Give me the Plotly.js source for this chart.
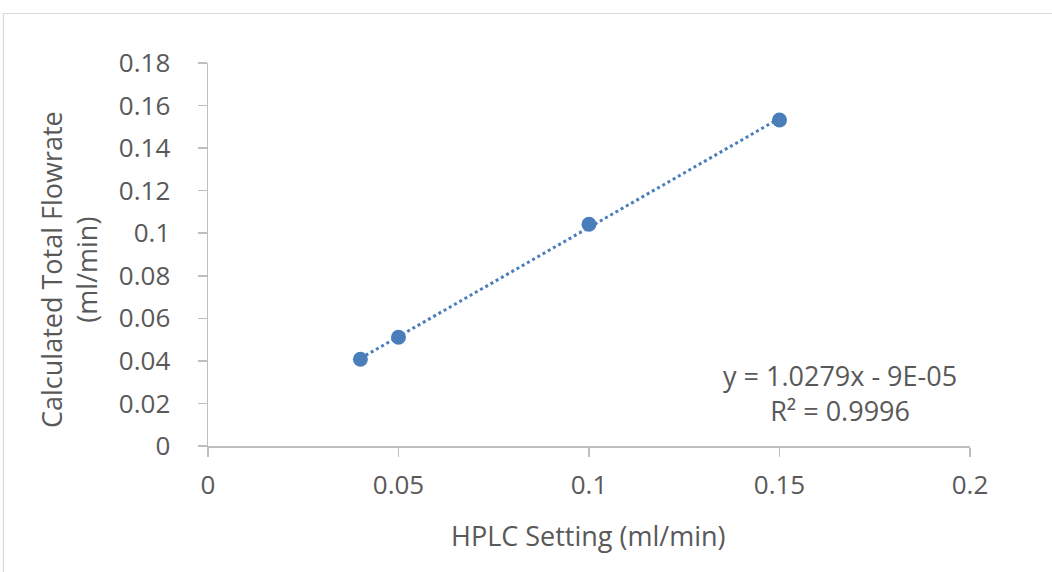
<!DOCTYPE html>
<html><head><meta charset="utf-8">
<script src="https://cdn.plot.ly/plotly-3.0.1.min.js"></script>
<style>html,body{margin:0;padding:0;background:#fff;}#chart{width:1052px;height:572px;}</style>
</head><body><div id="chart"></div>
<script>
const hplcSetting = [0.04, 0.05, 0.10, 0.15];
const totalFlowrate = [0.0408, 0.0511, 0.1042, 0.1532];
const equationText = "y = 1.0279x - 9E-05";
const r2Text = "R² = 0.9996";
const xTitle = "HPLC Setting (ml/min)";
const yTitle = "Calculated Total Flowrate<br>(ml/min)";
const xTicks = [0, 0.05, 0.1, 0.15, 0.2];
const yTicks = [0, 0.02, 0.04, 0.06, 0.08, 0.1, 0.12, 0.14, 0.16, 0.18];

// least squares trendline from the data
const n = hplcSetting.length;
const mx = hplcSetting.reduce((a,b)=>a+b,0)/n;
const my = totalFlowrate.reduce((a,b)=>a+b,0)/n;
let sxy=0, sxx=0;
for (let i=0;i<n;i++){sxy+=(hplcSetting[i]-mx)*(totalFlowrate[i]-my);sxx+=(hplcSetting[i]-mx)**2;}
const slope=sxy/sxx, intercept=my-slope*mx;
const tx=[Math.min(...hplcSetting), Math.max(...hplcSetting)];
const ty=tx.map(x=>slope*x+intercept);

const col = '#4a7ebb';
const fam = '"Open Sans", sans-serif';
const tickFont = {family:fam, color:'#595959', size:26};
const titleFont = {family:fam, color:'#595959', size:27};
const L=208, R=970, T=63, B=446;
const pw=R-L, ph=B-T;
const px = v => (v-L)/pw, py = v => (B-v)/ph;
const axCol = '#bfbfbf';

const data = [
 {x:tx, y:ty, mode:'lines', line:{color:col, width:3, dash:'dot'}, hoverinfo:'skip'},
 {x:hplcSetting, y:totalFlowrate, mode:'markers', marker:{color:col, size:15}}
];
const layout = {
 width:1052, height:572, showlegend:false,
 paper_bgcolor:'#fff', plot_bgcolor:'#fff',
 margin:{l:L, r:1052-R, t:T, b:572-B, pad:0},
 font: tickFont,
 xaxis:{range:[0,0.2], tickvals:xTicks, ticktext:xTicks.map(String), showgrid:false, zeroline:false,
   showline:true, linecolor:axCol, linewidth:1.5, ticks:'outside', ticklen:9, tickcolor:axCol, tickwidth:1.5,
   ticklabelstandoff:6, tickfont:tickFont},
 yaxis:{range:[0,0.18], tickvals:yTicks, ticktext:yTicks.map(String), showgrid:false, zeroline:false,
   showline:true, linecolor:axCol, linewidth:1.5, ticks:'outside', ticklen:9, tickcolor:axCol, tickwidth:1.5,
   ticklabelstandoff:22, tickfont:tickFont},
 annotations:[
  {xref:'paper', yref:'paper', x:px(840), y:py(393), text:equationText+'<br>'+r2Text,
   showarrow:false, align:'center', font:titleFont, xanchor:'center', yanchor:'middle'},
  {xref:'paper', yref:'paper', x:px(588), y:py(535), text:xTitle,
   showarrow:false, font:titleFont, xanchor:'center', yanchor:'middle'},
  {xref:'paper', yref:'paper', x:px(69), y:py(270), text:yTitle, textangle:-90,
   showarrow:false, align:'center', font:titleFont, xanchor:'center', yanchor:'middle'}
 ],
 shapes:[{type:'rect', xref:'paper', yref:'paper', x0:px(3.5), x1:px(1070), y0:py(13.5), y1:py(600),
   line:{color:'#d9d9d9', width:1.2}, fillcolor:'rgba(0,0,0,0)', layer:'below'}]
};
Plotly.newPlot('chart', data, layout, {displayModeBar:false, staticPlot:true});
</script></body></html>
